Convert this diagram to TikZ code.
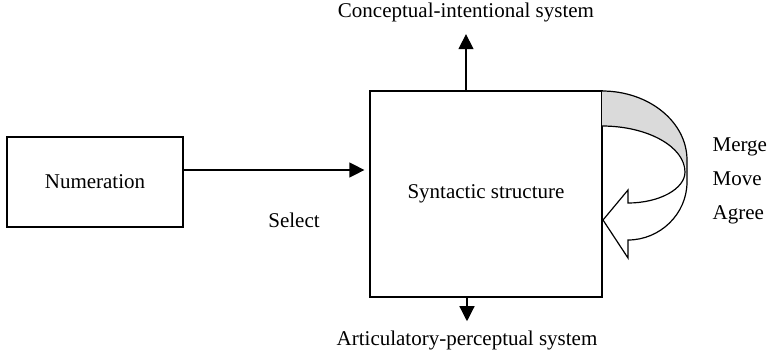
\documentclass[tikz,border=0pt]{standalone}
\usepackage{fontspec}
\setmainfont{Liberation Serif}
\usetikzlibrary{arrows.meta,calc}
\definecolor{band}{RGB}{218,218,218}
\begin{document}
\begin{tikzpicture}[x=0.5pt,y=-0.5pt,
  font=\fontsize{10.5}{12.6}\selectfont, line width=0.6pt,
  box/.style={draw, inner sep=0pt},
  arr/.style={-{Triangle[length=7.5pt,width=7.5pt]}},
  lbl/.style={inner sep=0pt, anchor=base},
  opl/.style={inner sep=0pt, anchor=base west}]
\useasboundingbox (0,0) rectangle (768,355);
% boxes
\node[box, minimum width=88pt, minimum height=45pt] (num) at (95,182) {Numeration};
\node[box, minimum width=116pt, minimum height=103pt] (syn) at (486,194) {Syntactic structure};
% labels
\node[lbl] (sel) at (294,227) {Select};
\node[lbl] (ci) at (466,17) {Conceptual-intentional system};
\node[lbl] (ap) at (467,345) {Articulatory-perceptual system};
\node[opl] (mer) at (712,151) {Merge};
\node[opl] (mov) at (712,185) {Move};
\node[opl] (agr) at (712,219) {Agree};
% connectors
\draw[arr, shorten >=2.5pt] ([yshift=6pt]num.east) -- ([yshift=6pt]num.east -| syn.west);
\draw[arr, shorten >=6pt] ([xshift=-10pt]syn.north) -- ([xshift=-10pt]syn.north |- ci.south);
\draw[arr, shorten >=4.3pt] ([xshift=-9.5pt]syn.south) -- ([xshift=-9.5pt]syn.south |- ap.north);
% curved band arrow
\fill[band] (602,91) .. controls (649,91) and (687,122) .. (687,160) -- (687,172)
  .. controls (685,147) and (648,126) .. (602,126) -- cycle;
\draw[line join=miter] (602,91) .. controls (649,91) and (687,122) .. (687,160) -- (687,182)
  .. controls (687,214) and (660,240) .. (628,240) -- (628,258) -- (603,220) -- (628,190) -- (628,203)
  .. controls (659,203) and (685,189) .. (685,172);
\draw (602,126) .. controls (648,126) and (685,147) .. (685,172);
\end{tikzpicture}
\end{document}
